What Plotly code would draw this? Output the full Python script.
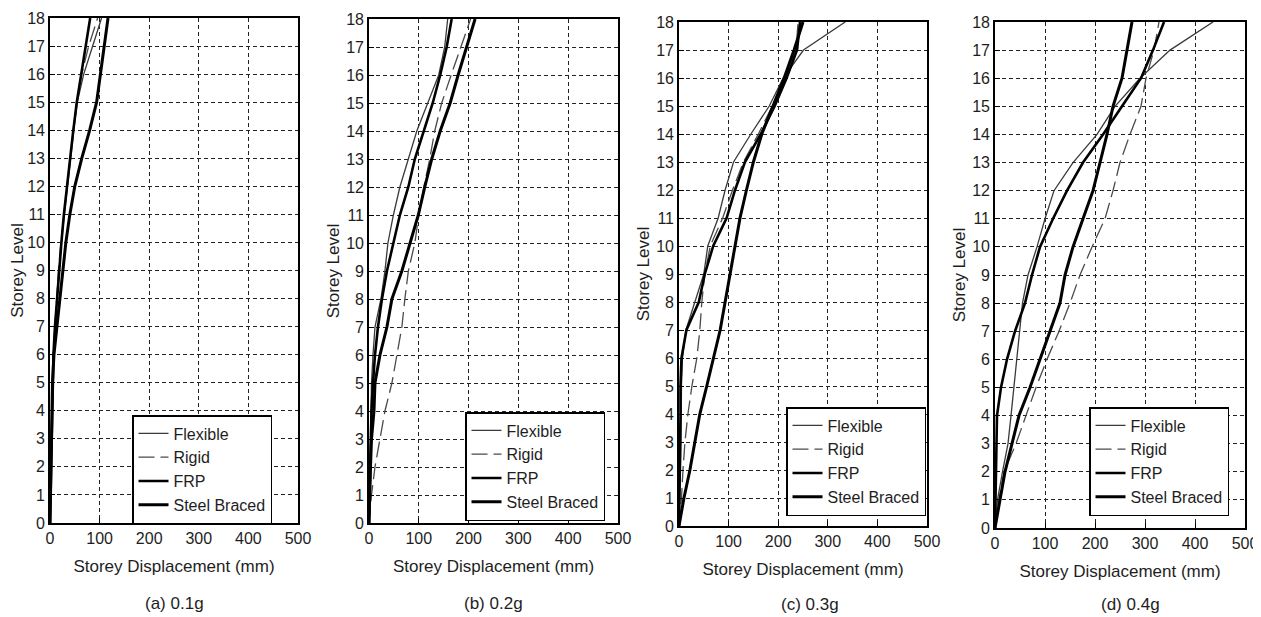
import plotly.graph_objects as go

# ---------------- data ----------------
levels = list(range(19))
x_ticks = [0, 100, 200, 300, 400, 500]
y_ticks = list(range(19))
series_names = ["Flexible", "Rigid", "FRP", "Steel Braced"]
panel_captions = ["(a) 0.1g", "(b) 0.2g", "(c) 0.3g", "(d) 0.4g"]
x_title = "Storey Displacement (mm)"
y_title = "Storey Level"

# (a) 0.1g  displacement (mm) at storey levels 0..18
a_flexible = [0, 1, 2, 3, 4, 5, 7, 10, 14, 18, 23, 29, 35, 41, 48, 55, 68, 86, 104]
a_rigid = [0, 1, 2, 3, 4, 5, 7, 10, 13, 17, 22, 28, 34, 40, 47, 54, 64, 78, 96]
a_frp = [0, 1, 2, 3, 4, 5, 7, 10, 14, 18, 23, 28, 34, 40, 47, 54, 63, 72, 81]
a_steel = [0, 1, 2, 3, 4, 5, 8, 14, 20, 27, 32, 40, 50, 64, 80, 94, 102, 110, 117]

# (b) 0.2g
b_flexible = [0, 1, 2, 3, 4, 5, 8, 12, 24, 32, 38, 49, 62, 79, 96, 118, 140, 152, 158]
b_rigid = [0, 5, 12, 22, 32, 46, 56, 66, 72, 79, 92, 100, 110, 122, 132, 146, 165, 185, 204]
b_frp = [0, 1, 2, 3, 5, 8, 12, 18, 26, 36, 49, 62, 79, 92, 110, 128, 143, 156, 166]
b_steel = [0, 1, 3, 5, 10, 12, 22, 36, 46, 66, 82, 99, 112, 126, 143, 163, 179, 196, 213]

# (c) 0.3g
c_flexible = [0, 2, 3, 4, 4, 5, 7, 14, 32, 50, 58, 79, 93, 110, 145, 182, 210, 251, 335]
c_rigid = [0, 5, 8, 12, 18, 26, 36, 42, 46, 52, 63, 88, 108, 130, 160, 188, 214, 236, 240]
c_frp = [0, 1, 2, 3, 3, 3, 5, 15, 40, 52, 69, 96, 113, 133, 165, 193, 217, 238, 244]
c_steel = [0, 10, 22, 32, 42, 56, 69, 83, 93, 103, 113, 123, 136, 150, 167, 190, 212, 232, 250]

# (d) 0.4g
d_flexible = [0, 5, 15, 26, 32, 38, 43, 49, 55, 66, 84, 100, 118, 156, 204, 240, 290, 350, 436]
d_rigid = [0, 8, 18, 42, 62, 82, 104, 128, 150, 170, 194, 220, 236, 250, 270, 292, 302, 318, 328]
d_frp = [0, 1, 2, 3, 4, 12, 24, 40, 60, 74, 90, 116, 144, 176, 216, 254, 292, 316, 338]
d_steel = [0, 10, 20, 34, 48, 70, 90, 110, 130, 140, 156, 176, 196, 210, 224, 236, 254, 264, 274]

panels = [
    [a_flexible, a_rigid, a_frp, a_steel],
    [b_flexible, b_rigid, b_frp, b_steel],
    [c_flexible, c_rigid, c_frp, c_steel],
    [d_flexible, d_rigid, d_frp, d_steel],
]

# ---------------- styling / layout ----------------
OFF = 8                       # page body margin of the html page
W, H = 1261 - OFF, 617 - OFF  # figure size so it fills the window


def fx(px):
    return (px - OFF) / W


def fy(py):
    return 1 - (py - OFF) / H


line_styles = [
    dict(color="#3a3a3a", width=1.3, dash="solid"),
    dict(color="#4a4a4a", width=1.3, dash="16px,6px"),
    dict(color="#000000", width=2.6, dash="solid"),
    dict(color="#000000", width=3.0, dash="solid"),
]
# plot boxes in window pixels: (left, right, top, bottom)
boxes = [(50, 298, 18, 523), (369, 618, 19, 523), (679, 927, 22, 526), (995, 1245, 22, 528)]
# legend top-left corners in window pixels
legend_pos = [(132, 415), (465, 412), (786, 407), (1089, 407)]
caption_pos = [(174, 603), (493, 603), (810, 604), (1130, 604)]

FONT = "Liberation Sans, Arial, sans-serif"
TXT = "#1e1e1e"

fig = go.Figure()
for p, data in enumerate(panels):
    xa = "x" if p == 0 else f"x{p+1}"
    ya = "y" if p == 0 else f"y{p+1}"
    lg = "legend" if p == 0 else f"legend{p+1}"
    for s, vals in enumerate(data):
        fig.add_trace(go.Scatter(
            x=vals, y=levels, mode="lines", name=series_names[s],
            line=line_styles[s], xaxis=xa, yaxis=ya, legend=lg,
        ))

layout = dict(
    width=W, height=H, paper_bgcolor="white", plot_bgcolor="white",
    margin=dict(l=0, r=0, t=0, b=0, autoexpand=False),
    font=dict(family=FONT, color=TXT, size=16),
    shapes=[], annotations=[],
)

for p in range(4):
    l, r, t, b = boxes[p]
    xk = "xaxis" if p == 0 else f"xaxis{p+1}"
    yk = "yaxis" if p == 0 else f"yaxis{p+1}"
    xa = "x" if p == 0 else f"x{p+1}"
    ya = "y" if p == 0 else f"y{p+1}"
    common = dict(
        showline=True, linecolor="black", linewidth=1.6, mirror=True,
        ticks="inside", ticklen=5, tickwidth=1.3, tickcolor="black",
        showgrid=True, gridcolor="#222", gridwidth=1.2, griddash="4px,3px",
        zeroline=False, automargin=False,
        tickfont=dict(size=16, color=TXT, family=FONT),
    )
    layout[xk] = dict(
        common, domain=[fx(l), fx(r)], range=[0, 500], tickvals=x_ticks,
        ticktext=[str(v) for v in x_ticks], anchor=ya,
        title=dict(text=x_title, font=dict(size=17, color=TXT), standoff=14),
    )
    layout[yk] = dict(
        common, domain=[fy(b), fy(t)], range=[0, 18], tickvals=y_ticks,
        ticktext=[str(v) for v in y_ticks], anchor=xa,
        title=dict(text=y_title, font=dict(size=17, color=TXT), standoff=2),
    )
    lk = "legend" if p == 0 else f"legend{p+1}"
    lx, ly = legend_pos[p]
    layout[lk] = dict(
        x=fx(lx), y=fy(ly), xanchor="left", yanchor="top",
        bgcolor="white", bordercolor="black", borderwidth=1.5,
        font=dict(size=16, color=TXT, family=FONT), itemwidth=30,
        tracegroupgap=0,
    )
    cx, cy = caption_pos[p]
    layout["annotations"].append(dict(
        text=panel_captions[p], x=fx(cx), y=fy(cy), xref="paper", yref="paper",
        showarrow=False, font=dict(size=17, color=TXT, family=FONT),
        xanchor="center", yanchor="middle",
    ))

layout["shapes"].append(dict(
    type="line", xref="paper", yref="paper", x0=fx(1257), x1=fx(1257),
    y0=fy(12), y1=fy(612), line=dict(color="black", width=2),
))
layout["showlegend"] = True
fig.update_layout(**layout)
fig.write_html("out.html")
